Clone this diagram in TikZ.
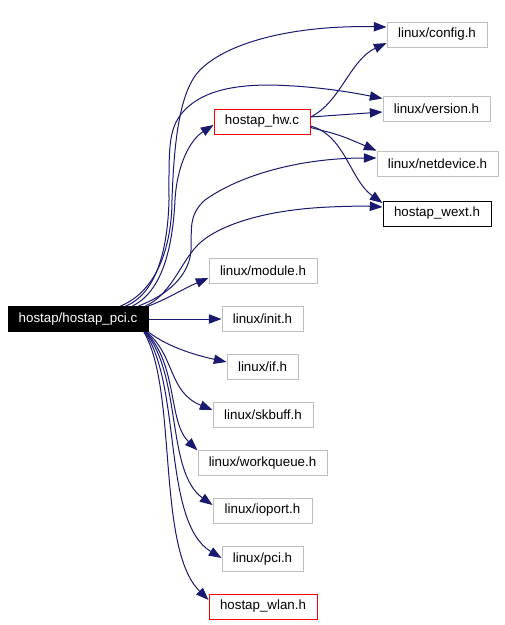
\documentclass[tikz,border=0pt]{standalone}
\usepackage{fontspec}
\setmainfont{Liberation Sans}
\usetikzlibrary{arrows.meta}
\definecolor{edgeblue}{RGB}{25,25,112}
\definecolor{boxgray}{RGB}{191,191,191}
\definecolor{boxred}{RGB}{255,0,0}
\begin{document}
\begin{tikzpicture}[x=0.75pt,y=-0.75pt,
  box/.style={draw=boxgray,line width=0.75pt,minimum height=18.75pt,inner sep=0pt,font=\fontsize{10pt}{12pt}\selectfont},
  redbox/.style={box,draw=boxred},
  blackbox/.style={box,draw=black},
  mainbox/.style={box,draw=black,fill=black,text=white},
  edge/.style={draw=edgeblue,line width=0.75pt,-{Triangle[length=9.5pt,width=7pt]}}]
\useasboundingbox (0,0) rectangle (505,625);
% nodes
\node[mainbox,minimum width=105pt] (main) at (78,319) {hostap/hostap\_pci.c};
\node[box,minimum width=75pt] (config) at (437,34.5) {linux/config.h};
\node[box,minimum width=80.25pt] (version) at (436.5,108.5) {linux/version.h};
\node[redbox,minimum width=72pt] (hw) at (262,121.5) {hostap\_hw.c};
\node[box,minimum width=90.75pt] (netdevice) at (437.5,164) {linux/netdevice.h};
\node[blackbox,minimum width=81pt] (wext) at (437,213.5) {hostap\_wext.h};
\node[box,minimum width=81pt] (module) at (263,270.5) {linux/module.h};
\node[box,minimum width=60.75pt] (init) at (262.5,319) {linux/init.h};
\node[box,minimum width=53.25pt] (if) at (262.5,366.5) {linux/if.h};
\node[box,minimum width=75pt] (skbuff) at (263,415) {linux/skbuff.h};
\node[box,minimum width=96.75pt] (workqueue) at (262.5,463) {linux/workqueue.h};
\node[box,minimum width=74.25pt] (ioport) at (262.5,510.5) {linux/ioport.h};
\node[box,minimum width=60.75pt] (pci) at (262.5,559) {linux/pci.h};
\node[redbox,minimum width=81pt] (wlan) at (263,606.5) {hostap\_wlan.h};
% edges from main (upper)
\draw[edge] ([xshift=-21pt]main.north east) .. controls (160,290) and (172,240) .. (172,200)
  .. controls (174,140) and (180,90) .. (200,70) .. controls (230,40) and (300,25) .. ([yshift=5.6pt]config.west);
\draw[edge] ([xshift=-17pt]main.north east) .. controls (160,292) and (168,240) .. (169,200)
  .. controls (169,150) and (168,130) .. (182,113) .. controls (200,92) and (230,85) .. (270,85)
  .. controls (320,86) and (360,94) .. ([yshift=7.5pt]version.west);
\draw[edge] ([xshift=-12pt]main.north east) .. controls (165,290) and (173,240) .. (175,200)
  .. controls (177,165) and (190,140) .. ([yshift=-2.6pt]hw.west);
\draw[edge] ([xshift=-7.5pt]main.north east) .. controls (175,292) and (190,270) .. (191,250)
  .. controls (192,230) and (188,215) .. (205,200) .. controls (240,175) and (300,158) .. ([yshift=4.5pt]netdevice.west);
\draw[edge] ([xshift=-2.25pt]main.north east) .. controls (170,295) and (180,265) .. (195,248)
  .. controls (210,230) and (250,213) .. (313,208) .. controls (340,206) and (365,206) .. ([yshift=4.9pt]wext.west);
\draw[edge] (main.north east) .. controls (165,300) and (185,288) .. ([yshift=-5.6pt]module.west);
\draw[edge] (main.east) -- (init.west);
% edges from main (lower)
\draw[edge] (main.south east) .. controls (165,345) and (190,354) .. ([yshift=3.4pt]if.west);
\draw[edge] ([xshift=-1.5pt]main.south east) .. controls (175,355) and (168,392) .. ([yshift=3.75pt]skbuff.west);
\draw[edge] ([xshift=-2pt]main.south east) .. controls (178,365) and (168,422) .. ([yshift=9.5pt]workqueue.west);
\draw[edge] ([xshift=-2.5pt]main.south east) .. controls (182,375) and (166,472) .. ([yshift=4.1pt]ioport.west);
\draw[edge] ([xshift=-3pt]main.south east) .. controls (182,385) and (162,522) .. ([yshift=0.75pt]pci.west);
\draw[edge] ([xshift=-3.5pt]main.south east) .. controls (178,390) and (156,548) .. ([yshift=4.9pt]wlan.west);
% edges from hostap_hw.c
\draw[edge] ([yshift=3.4pt]hw.east) .. controls (340,103) and (350,60) .. ([yshift=-6.4pt]config.west);
\draw[edge] ([yshift=3.4pt]hw.east) -- ([yshift=-2.6pt]version.west);
\draw[edge] ([yshift=-4.5pt]hw.east) .. controls (340,135) .. ([yshift=10pt]netdevice.west);
\draw[edge] ([yshift=-3.4pt]hw.east) .. controls (345,135) and (350,180) .. ([yshift=7.9pt]wext.west);
\end{tikzpicture}
\end{document}
